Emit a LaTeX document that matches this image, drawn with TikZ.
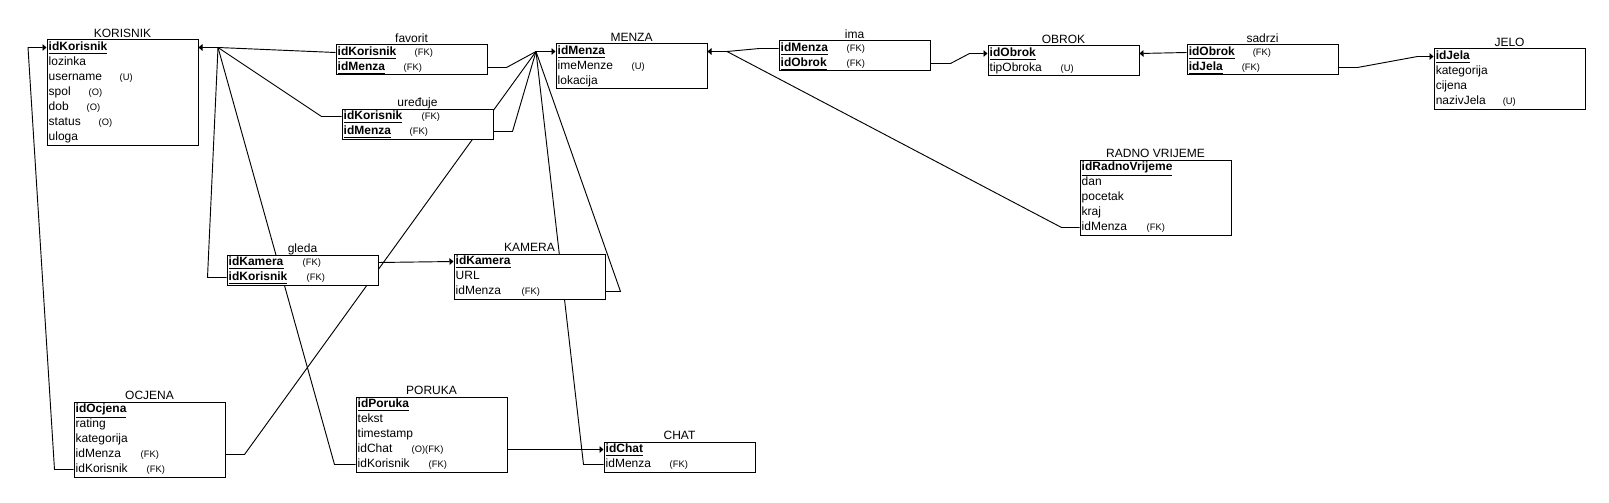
\documentclass[tikz,border=0pt]{standalone}
\usepackage{fontspec}
\setmainfont{Liberation Sans}
\usetikzlibrary{arrows.meta,fit,backgrounds}
\newlength{\pxu}\setlength{\pxu}{0.75pt}
\newcommand{\key}[1]{\underline{\textbf{#1}}}
\newcommand{\polje}[3]{\makebox[#2\pxu][l]{#1}{\fontsize{7pt}{8pt}\selectfont #3}}
% tablica: ime, naslov, x, y, broj redaka, retci
\newcommand{\tablica}[6]{%
  \node[tbl, fit={(#3,#4) ({#3+151},{#4+15*#5})}] (#1) {};
  \foreach \txt [count=\i] in {#6}
    \node[row] (#1\i) at (#3,{#4+7.5+15*(\i-1)}) {\txt};
  \node[ttl] at ({#3+75.5},{#4-2.5}) {#2};}

\begin{document}
\begin{tikzpicture}[x=0.75pt,y=-0.75pt,
tbl/.style={draw,fill=white,line width=0.75pt,inner sep=0pt},
row/.style={anchor=west,inner xsep=1.1pt,inner ysep=0pt,text height=6.5pt,text depth=1.5pt,font=\fontsize{9pt}{10pt}\selectfont},
ttl/.style={anchor=base,inner sep=0pt,font=\fontsize{9pt}{10pt}\selectfont},
rel/.style={line width=0.7pt},
fk/.style={rel,-{Triangle[length=3pt,width=5pt]}}
]
\useasboundingbox (0,0) rectangle (1609,503);

\tablica{korisnik}{KORISNIK}{47}{40}{7}{\key{idKorisnik}, lozinka, \polje{username}{71}{(U)}, \polje{spol}{40}{(O)}, \polje{dob}{38}{(O)}, \polje{status}{50}{(O)}, uloga}
\tablica{favorit}{favorit}{336}{45}{2}{\polje{\key{idKorisnik}}{77}{(FK)}, \polje{\key{idMenza}}{66}{(FK)}}
\tablica{ureduje}{uređuje}{342}{109}{2}{\polje{\key{idKorisnik}}{78}{(FK)}, \polje{\key{idMenza}}{66}{(FK)}}
\tablica{menza}{MENZA}{556}{44}{3}{\key{idMenza}, \polje{imeMenze}{74}{(U)}, lokacija}
\tablica{ima}{ima}{779}{41}{2}{\polje{\key{idMenza}}{66}{(FK)}, \polje{\key{idObrok}}{66}{(FK)}}
\tablica{obrok}{OBROK}{988}{46}{2}{\key{idObrok}, \polje{tipObroka}{71}{(U)}}
\tablica{sadrzi}{sadrzi}{1187}{45}{2}{\polje{\key{idObrok}}{64}{(FK)}, \polje{\key{idJela}}{53}{(FK)}}
\tablica{jelo}{JELO}{1434}{49}{4}{\key{idJela}, kategorija, cijena, \polje{nazivJela}{67}{(U)}}
\tablica{radno}{RADNO VRIJEME}{1080}{160}{5}{\key{idRadnoVrijeme}, dan, pocetak, kraj, \polje{idMenza}{65}{(FK)}}
\tablica{gleda}{gleda}{227}{255}{2}{\polje{\key{idKamera}}{74}{(FK)}, \polje{\key{idKorisnik}}{78}{(FK)}}
\tablica{kamera}{KAMERA}{454}{254}{3}{\key{idKamera}, URL, \polje{idMenza}{66}{(FK)}}
\tablica{ocjena}{OCJENA}{74}{402}{5}{\key{idOcjena}, rating, kategorija, \polje{idMenza}{65}{(FK)}, \polje{idKorisnik}{71}{(FK)}}
\tablica{poruka}{PORUKA}{356}{397}{5}{\key{idPoruka}, tekst, timestamp, \polje{idChat}{54}{(O)(FK)}, \polje{idKorisnik}{71}{(FK)}}
\tablica{chat}{CHAT}{604}{442}{2}{\key{idChat}, \polje{idMenza}{64}{(FK)}}

\coordinate (hK) at (218,47.5);
\coordinate (hM) at (536,51.5);
\coordinate (hM2) at (727,51.5);
\coordinate (lijevo) at (28,47.5);

\begin{pgfonlayer}{background}
% veze prema KORISNIK
\draw[fk] (hK) -- (korisnik.east |- korisnik1);
\draw[rel] (favorit.west |- favorit1) -- (hK);
\draw[rel] (ureduje.west |- ureduje1) -- ++(-20,0) -- (hK);
\draw[rel] (gleda.west |- gleda2) -- ++(-19,0) -- (hK);
\draw[rel] (poruka.west |- poruka5) -- ++(-21,0) -- (hK);
\draw[fk] (ocjena.west |- ocjena5) -- ++(-19,0) -- (lijevo) -- (korisnik.west |- korisnik1);
% veze prema MENZA
\draw[fk] (hM) -- (menza.west |- menza1);
\draw[rel] (favorit.east |- favorit2) -- ++(19,0) -- (hM);
\draw[rel] (ureduje.east |- ureduje2) -- ++(19,0) -- (hM);
\draw[rel] (ocjena.east |- ocjena4) -- ++(19,0) -- (hM);
\draw[rel] (kamera.east |- kamera3) -- ++(15,0) -- (hM);
\draw[rel] (chat.west |- chat2) -- ++(-20,0) -- (hM);
\draw[fk] (hM2) -- (menza.east |- menza1);
\draw[rel] (ima.west |- ima1) -- ++(-19,0) -- (hM2);
\draw[rel] (radno.west |- radno5) -- ++(-18,0) -- (hM2);
% ostale veze
\draw[fk] (ima.east |- ima2) -- ++(20,0) -- ++(19,-10) -- (obrok.west |- obrok1);
\draw[fk] (sadrzi.west |- sadrzi1) -- (obrok.east |- obrok1);
\draw[fk] (sadrzi.east |- sadrzi2) -- ++(19,0) -- ++(60,-11) -- (jelo.west |- jelo1);
\draw[fk] (gleda.east |- gleda1) -- (kamera.west |- kamera1);
\draw[fk] (poruka.east |- poruka4) -- (chat.west |- chat1);
\end{pgfonlayer}
\end{tikzpicture}
\end{document}
